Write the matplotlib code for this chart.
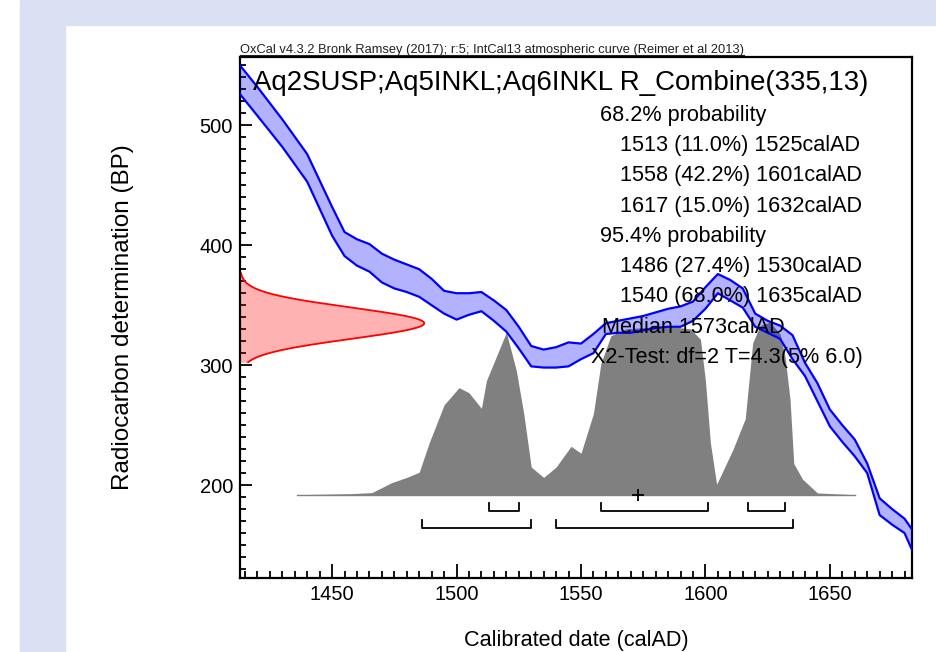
import numpy as np
import matplotlib
matplotlib.use('Agg')
import matplotlib.pyplot as plt
from matplotlib.patches import Rectangle
from matplotlib.lines import Line2D

plt.rcParams['font.family'] = ['Liberation Sans', 'DejaVu Sans']

# IntCal13 curve (upper / lower edge of the 1-sigma band, BP)
curve_years = [1413, 1420, 1430, 1440, 1450, 1455, 1460, 1465, 1470, 1475, 1480, 1485,
               1490, 1495, 1500, 1505, 1510, 1515, 1520, 1525, 1530, 1535, 1540, 1545,
               1550, 1555, 1560, 1565, 1570, 1575, 1580, 1585, 1590, 1595, 1600, 1605,
               1610, 1615, 1620, 1625, 1630, 1635, 1640, 1645, 1650, 1655, 1660, 1665,
               1670, 1675, 1680, 1683]
curve_upper = [550, 532, 505, 476, 432, 411, 405, 401, 393, 388, 384, 380,
               372, 362, 360, 360, 361, 354, 346, 332, 316, 313, 315, 319,
               318, 326, 335, 337, 339, 341, 344, 347, 349, 353, 365, 376,
               371, 364, 343, 337, 333, 325, 302, 285, 263, 250, 238, 218,
               189, 180, 172, 163]
curve_lower = [526, 508, 482, 453, 408, 391, 383, 378, 369, 364, 361, 357,
               350, 343, 338, 342, 345, 337, 328, 314, 299, 298, 298, 299,
               305, 310, 326, 327, 327, 329, 331, 332, 332, 337, 347, 360,
               354, 348, 332, 327, 322, 305, 291, 270, 249, 236, 224, 210,
               175, 167, 160, 146]

# measurement R_Combine(335,13)
c14_mean = 335
c14_err = 13

# posterior (relative probability)
post_years = [1436, 1458, 1466, 1474, 1480, 1485, 1489, 1495, 1501, 1505, 1510, 1512,
              1516, 1520, 1524, 1527, 1530, 1535, 1540, 1546, 1550, 1555, 1558, 1562,
              1568, 1578, 1588, 1594, 1598, 1600, 1602, 1604.5, 1611, 1616, 1619, 1622,
              1626, 1630, 1632, 1634, 1635.5, 1639, 1645, 1660]
post_prob = [0, 0.006, 0.012, 0.07, 0.10, 0.13, 0.30, 0.52, 0.62, 0.59, 0.50, 0.66,
             0.80, 0.94, 0.72, 0.47, 0.16, 0.10, 0.16, 0.28, 0.24, 0.47, 0.76, 0.92,
             0.96, 0.97, 0.97, 0.96, 0.90, 0.66, 0.30, 0.06, 0.26, 0.44, 0.88, 0.98,
             1.0, 0.93, 0.80, 0.55, 0.18, 0.09, 0.01, 0]

ranges_68 = [(1513, 1525), (1558, 1601), (1617, 1632)]
ranges_95 = [(1486, 1530), (1540, 1635)]
median = 1573

header = "OxCal v4.3.2 Bronk Ramsey (2017); r:5; IntCal13 atmospheric curve (Reimer et al 2013)"
title = "Aq2SUSP;Aq5INKL;Aq6INKL R_Combine(335,13)"
info_lines = ["68.2% probability",
              "1513 (11.0%) 1525calAD",
              "1558 (42.2%) 1601calAD",
              "1617 (15.0%) 1632calAD",
              "95.4% probability",
              "1486 (27.4%) 1530calAD",
              "1540 (68.0%) 1635calAD",
              "Median 1573calAD",
              "X2-Test: df=2 T=4.3(5% 6.0)"]
info_x = [600, 620, 620, 620, 600, 620, 620, 602, 591]

W, H = 937, 652
fig = plt.figure(figsize=(W / 100, H / 100), dpi=100)


def fx(x):
    return x / W


def fy(y):
    return 1 - y / H


# page background
bg = '#d9e1f2'
fig.patches.append(Rectangle((fx(20), fy(25)), fx(W - 20), 25 / H, transform=fig.transFigure,
                             color=bg, zorder=-5))
fig.patches.append(Rectangle((fx(20), 0), fx(45), fy(25), transform=fig.transFigure,
                             color=bg, zorder=-5))

ax = fig.add_axes([fx(240), fy(578), fx(912 - 240), (578 - 57) / H])
ax.set_xlim(1413, 1683)
ax.set_ylim(122.5, 557)

# calibration curve
ax.fill_between(curve_years, curve_lower, curve_upper, color=(0, 0, 1, 0.3), lw=0, zorder=3)
ax.plot(curve_years, curve_upper, color='#0000ff', lw=1.6, zorder=4)
ax.plot(curve_years, curve_lower, color='#0000ff', lw=1.6, zorder=4)

# measurement on the y axis
bp = np.linspace(c14_mean - 2.5 * c14_err, c14_mean + 3.2 * c14_err, 200)
dens = np.exp(-0.5 * ((bp - c14_mean) / c14_err) ** 2)
xpeak = 74
ax.fill_betweenx(bp, 1413, 1413 + dens * xpeak, color=(1, 0, 0, 0.3), lw=0, zorder=2)
ax.plot(1413 + dens * xpeak, bp, color='#ff0000', lw=1.3, zorder=2)

# posterior
base = 192
scale = 144
top = [base + p * scale for p in post_prob]
ax.fill_between(post_years, base, top, color='#808080', lw=0, zorder=1)
ax.plot([post_years[0], post_years[-1]], [base, base], color='#808080', lw=1, zorder=1)

# ranges
for rng, yb in [(ranges_68, 178.5), (ranges_95, 164)]:
    for a, b in rng:
        ax.plot([a, a, b, b], [yb + 6.5, yb, yb, yb + 6.5], color='black', lw=1.3, zorder=5)
ax.plot(median, base, marker='+', color='black', ms=9, mew=1.3, zorder=5)

# axes styling
for s in ax.spines.values():
    s.set_linewidth(1.6)
ax.set_xticks([1450, 1500, 1550, 1600, 1650])
ax.set_xticks(np.arange(1415, 1685, 5), minor=True)
ax.set_yticks([200, 300, 400, 500])
ax.set_yticks(np.arange(130, 560, 10), minor=True)
ax.tick_params(which='both', direction='in', width=1.3, labelsize=14.5, pad=5)
ax.tick_params(axis='x', which='major', length=10)
ax.tick_params(axis='x', which='minor', length=5)
ax.tick_params(axis='y', which='major', length=8.5)
ax.tick_params(axis='y', which='minor', length=4.3)

ax.set_xlabel('Calibrated date (calAD)', fontsize=15.6, labelpad=19)
ax.set_ylabel('Radiocarbon determination (BP)', fontsize=17.5, labelpad=47)

# texts
hdr = fig.text(fx(240), fy(53), header, fontsize=9.3, va='baseline', ha='left', color='#222222')
fig.text(fx(253), fy(90), title, fontsize=19.9, va='baseline', ha='left', zorder=10)
for i, (s, x) in enumerate(zip(info_lines, info_x)):
    fig.text(fx(x), fy(121 + i * 30.25), s, fontsize=15.6, va='baseline', ha='left', zorder=10)

fig.canvas.draw()
bb = hdr.get_window_extent().transformed(fig.transFigure.inverted())
fig.add_artist(Line2D([bb.x0, bb.x1], [fy(54.5), fy(54.5)], transform=fig.transFigure,
                      color='#222222', lw=0.8))

fig.savefig('out.png', dpi=100)
